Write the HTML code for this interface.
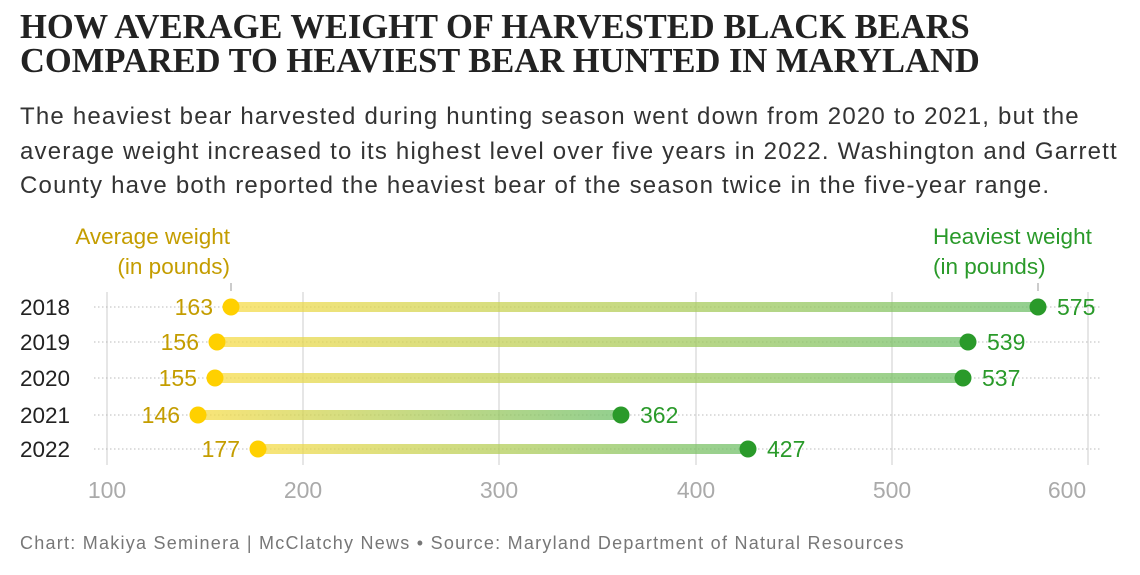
<!DOCTYPE html>
<html><head><meta charset="utf-8"><style>
body{margin:0;width:1140px;height:575px;background:#fff;overflow:hidden;font-family:"Liberation Sans",sans-serif}
.t{position:absolute;left:20px;top:10px;font-family:"Liberation Serif",serif;font-weight:bold;font-size:34.5px;line-height:34px;color:#222;white-space:nowrap}
.s{position:absolute;left:20px;top:100px;font-size:24px;letter-spacing:1.2px;line-height:34.5px;color:#333;white-space:nowrap}
.f{position:absolute;left:20px;top:533px;font-size:18px;letter-spacing:1.25px;color:#777;white-space:nowrap}
</style></head><body>
<div class="t">HOW AVERAGE WEIGHT OF HARVESTED BLACK BEARS<br>COMPARED TO HEAVIEST BEAR HUNTED IN MARYLAND</div>
<div class="s">The heaviest bear harvested during hunting season went down from 2020 to 2021, but the<br>average weight increased to its highest level over five years in 2022. Washington and Garrett<br>County have both reported the heaviest bear of the season twice in the five-year range.</div>
<svg style="position:absolute;left:0;top:0" width="1140" height="575" font-family="Liberation Sans, sans-serif">
<defs><linearGradient id="g" x1="0" x2="1"><stop offset="0" stop-color="#f7dc4a" stop-opacity="0.75"/><stop offset="1" stop-color="#6fbf6a" stop-opacity="0.75"/></linearGradient></defs>
<g stroke="#ddd" stroke-width="1.5">
<line x1="107" y1="292" x2="107" y2="465"/><line x1="303" y1="292" x2="303" y2="465"/><line x1="499" y1="292" x2="499" y2="465"/><line x1="696" y1="292" x2="696" y2="465"/><line x1="892" y1="292" x2="892" y2="465"/><line x1="1088" y1="292" x2="1088" y2="465"/>
</g>
<g stroke="#bbb" stroke-dasharray="1.5,2.5" stroke-width="1">
<line x1="94" y1="307" x2="1100" y2="307"/><line x1="94" y1="342" x2="1100" y2="342"/><line x1="94" y1="378" x2="1100" y2="378"/><line x1="94" y1="415" x2="1100" y2="415"/><line x1="94" y1="449" x2="1100" y2="449"/>
</g>
<line x1="231" y1="283" x2="231" y2="291" stroke="#999"/><line x1="1038" y1="283" x2="1038" y2="291" stroke="#999"/>
<g fill="#aaa" font-size="23" text-anchor="middle"><text x="107" y="498">100</text><text x="303" y="498">200</text><text x="499" y="498">300</text><text x="696" y="498">400</text><text x="892" y="498">500</text><text x="1067" y="498">600</text></g>
<g fill="#c49d00" font-size="22.5" text-anchor="end"><text x="230" y="244">Average weight</text><text x="230" y="274">(in pounds)</text></g>
<g fill="#2a9a2a" font-size="22.5"><text x="933" y="244">Heaviest weight</text><text x="933" y="274">(in pounds)</text></g>
<g fill="#222" font-size="22.5"><text x="20" y="315">2018</text><text x="20" y="350">2019</text><text x="20" y="386">2020</text><text x="20" y="423">2021</text><text x="20" y="457">2022</text></g>
<rect x="231" y="302" width="807" height="10" fill="url(#g)"/>
<rect x="217" y="337" width="751" height="10" fill="url(#g)"/>
<rect x="215" y="373" width="748" height="10" fill="url(#g)"/>
<rect x="198" y="410" width="423" height="10" fill="url(#g)"/>
<rect x="258" y="444" width="490" height="10" fill="url(#g)"/>
<g fill="#ffd000"><circle cx="231" cy="307" r="8.5"/><circle cx="217" cy="342" r="8.5"/><circle cx="215" cy="378" r="8.5"/><circle cx="198" cy="415" r="8.5"/><circle cx="258" cy="449" r="8.5"/></g>
<g fill="#2a9a2a"><circle cx="1038" cy="307" r="8.5"/><circle cx="968" cy="342" r="8.5"/><circle cx="963" cy="378" r="8.5"/><circle cx="621" cy="415" r="8.5"/><circle cx="748" cy="449" r="8.5"/></g>
<g fill="#c49d00" font-size="23" text-anchor="end"><text x="213" y="315">163</text><text x="199" y="350">156</text><text x="197" y="386">155</text><text x="180" y="423">146</text><text x="240" y="457">177</text></g>
<g fill="#2a9a2a" font-size="23"><text x="1057" y="315">575</text><text x="987" y="350">539</text><text x="982" y="386">537</text><text x="640" y="423">362</text><text x="767" y="457">427</text></g>
</svg>
<div class="f">Chart: Makiya Seminera | McClatchy News • Source: Maryland Department of Natural Resources</div>
</body></html>
